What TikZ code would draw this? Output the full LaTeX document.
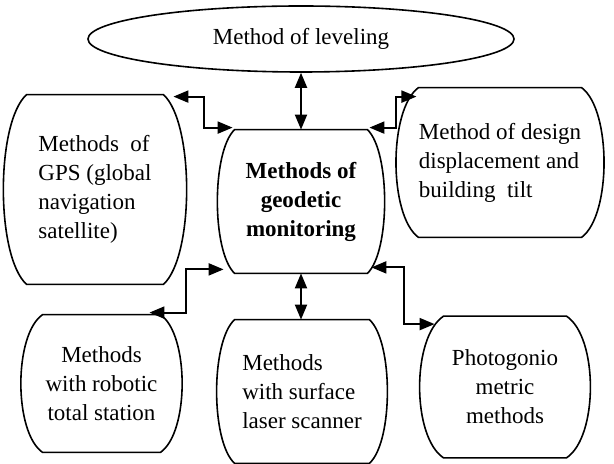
\documentclass[tikz,border=0pt]{standalone}
\usepackage{fontspec}
\setmainfont{Liberation Serif}
\usetikzlibrary{shapes.geometric,positioning,arrows.meta}

\begin{document}
\begin{tikzpicture}[
    x=0.5pt, y=-0.5pt,
    box/.style={inner sep=0pt, font=\fontsize{11.5}{14.5}\selectfont},
    outline/.style={draw=black, line width=0.8pt},
    dbl/.style={{Triangle[length=7.5pt,width=6pt]}-{Triangle[length=7.5pt,width=6pt]}, line width=1pt}
]

\useasboundingbox (0,0) rectangle (614,464);

% top ellipse
\node[box, ellipse, outline, minimum width=213pt, minimum height=33pt] (level) at (301,39) {Method of leveling};

% barrel boxes (size = straight top edge x height)
\node[box, minimum width=68pt, minimum height=94.5pt, align=left] (gps) at (95,189.5) {Methods\ \ of\\GPS (global\\navigation\\satellite)};
\node[box, minimum width=66pt, minimum height=71.5pt, align=center, font=\fontsize{11.5}{14.5}\selectfont\bfseries] (geo) at (301,201.5) {Methods of\\geodetic\\monitoring};
\node[box, minimum width=80pt, minimum height=74.5pt, align=left] (design) at (500,162.5) {Method of design\\displacement and\\building\ \ tilt};
\node[box, minimum width=58.5pt, minimum height=68.5pt, align=center] (robotic) at (101.5,383.5) {Methods\\with robotic\\total station};
\node[box, minimum width=67pt, minimum height=71.5pt, align=left] (scanner) at (302,391.5) {Methods\\with surface\\laser scanner};
\node[box, minimum width=61pt, minimum height=70.5pt, align=center] (photo) at (505,387) {Photogonio\\metric\\methods};

\foreach \n/\b/\v in {gps/31/28, geo/23/22, design/30/22, robotic/29/20, scanner/24/22, photo/32/21}
  \draw[outline] (\n.north west) -- (\n.north east)
    .. controls +(\b,\v) and +(\b,-\v) .. (\n.south east) -- (\n.south west)
    .. controls +(-\b,-\v) and +(-\b,\v) .. cycle;

% connectors
\draw[dbl] (level.south) -- (level.south |- geo.north);
\draw[dbl] ([shift={(10,2)}]gps.north east) -- ++(31,0) |- ([shift={(-2,-2)}]geo.north west);
\draw[dbl] ([shift={(2,-2)}]geo.north east) -- ++(27,0) |- ([shift={(-2,9)}]design.north west);
\draw[dbl] ([shift={(-11,-4)}]geo.south west) -- ++(-38,0) |- ([shift={(-11,-2)}]robotic.north east);
\draw[dbl] (geo.south) -- (geo.south |- scanner.north);
\draw[dbl] ([shift={(4,-6)}]geo.south east) -- ++(33,0) |- ([shift={(-9,8)}]photo.north west);

\end{tikzpicture}
\end{document}
